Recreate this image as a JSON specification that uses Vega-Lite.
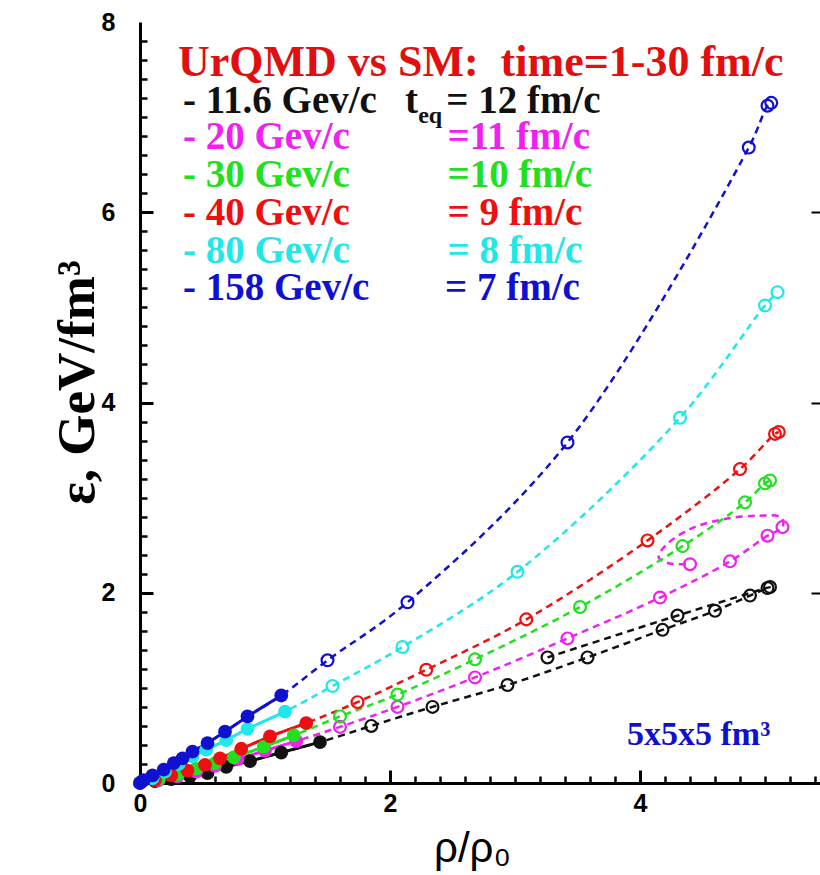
{
  "$schema": "https://vega.github.io/schema/vega-lite/v6.json",
  "width": 680,
  "height": 761,
  "autosize": {"type": "none"},
  "padding": {"left": 140, "top": 22, "right": 0, "bottom": 92},
  "background": "white",
  "config": {"view": {"stroke": null}, "axis": {"labelOverlap": false}},
  "datasets": {
    "pts": [
      {"s": "11.6", "i": 0, "x": 0, "y": 0, "k": "f"},
      {"s": "11.6", "i": 1, "x": 0.12, "y": 0.02, "k": "f"},
      {"s": "11.6", "i": 2, "x": 0.25, "y": 0.04, "k": "f"},
      {"s": "11.6", "i": 3, "x": 0.4, "y": 0.07, "k": "f"},
      {"s": "11.6", "i": 4, "x": 0.54, "y": 0.105, "k": "f"},
      {"s": "11.6", "i": 5, "x": 0.69, "y": 0.17, "k": "f"},
      {"s": "11.6", "i": 6, "x": 0.88, "y": 0.23, "k": "f"},
      {"s": "11.6", "i": 7, "x": 1.13, "y": 0.32, "k": "f"},
      {"s": "11.6", "i": 8, "x": 1.44, "y": 0.43, "k": "f"},
      {"s": "11.6", "i": 9, "x": 1.85, "y": 0.6, "k": "o"},
      {"s": "11.6", "i": 10, "x": 2.34, "y": 0.8, "k": "o"},
      {"s": "11.6", "i": 11, "x": 2.94, "y": 1.03, "k": "o"},
      {"s": "11.6", "i": 12, "x": 3.58, "y": 1.32, "k": "o"},
      {"s": "11.6", "i": 13, "x": 4.18, "y": 1.61, "k": "o"},
      {"s": "11.6", "i": 14, "x": 4.6, "y": 1.81, "k": "o"},
      {"s": "11.6", "i": 15, "x": 4.88, "y": 1.97, "k": "o"},
      {"s": "11.6", "i": 16, "x": 5.02, "y": 2.05, "k": "o"},
      {"s": "11.6", "i": 17, "x": 5.04, "y": 2.06, "k": "o"},
      {"s": "11.6", "i": 18, "x": 4.3, "y": 1.76, "k": "o"},
      {"s": "11.6", "i": 19, "x": 3.26, "y": 1.32, "k": "o"},

      {"s": "20", "i": 0, "x": 0, "y": 0, "k": "f"},
      {"s": "20", "i": 1, "x": 0.15, "y": 0.03, "k": "f"},
      {"s": "20", "i": 2, "x": 0.3, "y": 0.07, "k": "f"},
      {"s": "20", "i": 3, "x": 0.45, "y": 0.12, "k": "f"},
      {"s": "20", "i": 4, "x": 0.6, "y": 0.18, "k": "f"},
      {"s": "20", "i": 5, "x": 0.78, "y": 0.25, "k": "f"},
      {"s": "20", "i": 6, "x": 1.0, "y": 0.34, "k": "f"},
      {"s": "20", "i": 7, "x": 1.25, "y": 0.44, "k": "f"},
      {"s": "20", "i": 8, "x": 1.6, "y": 0.59, "k": "o"},
      {"s": "20", "i": 9, "x": 2.06, "y": 0.8, "k": "o"},
      {"s": "20", "i": 10, "x": 2.68, "y": 1.11, "k": "o"},
      {"s": "20", "i": 11, "x": 3.42, "y": 1.52, "k": "o"},
      {"s": "20", "i": 12, "x": 4.16, "y": 1.95, "k": "o"},
      {"s": "20", "i": 13, "x": 4.72, "y": 2.33, "k": "o"},
      {"s": "20", "i": 14, "x": 5.02, "y": 2.6, "k": "o"},
      {"s": "20", "i": 15, "x": 5.14, "y": 2.69, "k": "o"},
      {"s": "20", "i": 16, "x": 5.13, "y": 2.79, "k": "c"},
      {"s": "20", "i": 17, "x": 4.94, "y": 2.81, "k": "c"},
      {"s": "20", "i": 18, "x": 4.66, "y": 2.77, "k": "c"},
      {"s": "20", "i": 19, "x": 4.4, "y": 2.67, "k": "c"},
      {"s": "20", "i": 20, "x": 4.2, "y": 2.49, "k": "c"},
      {"s": "20", "i": 21, "x": 4.15, "y": 2.37, "k": "c"},
      {"s": "20", "i": 22, "x": 4.23, "y": 2.31, "k": "c"},
      {"s": "20", "i": 23, "x": 4.4, "y": 2.3, "k": "o"},

      {"s": "30", "i": 0, "x": 0, "y": 0, "k": "f"},
      {"s": "30", "i": 1, "x": 0.15, "y": 0.04, "k": "f"},
      {"s": "30", "i": 2, "x": 0.3, "y": 0.09, "k": "f"},
      {"s": "30", "i": 3, "x": 0.45, "y": 0.15, "k": "f"},
      {"s": "30", "i": 4, "x": 0.6, "y": 0.21, "k": "f"},
      {"s": "30", "i": 5, "x": 0.75, "y": 0.27, "k": "f"},
      {"s": "30", "i": 6, "x": 0.99, "y": 0.38, "k": "f"},
      {"s": "30", "i": 7, "x": 1.23, "y": 0.5, "k": "f"},
      {"s": "30", "i": 8, "x": 1.6, "y": 0.7, "k": "o"},
      {"s": "30", "i": 9, "x": 2.06, "y": 0.93, "k": "o"},
      {"s": "30", "i": 10, "x": 2.68, "y": 1.3, "k": "o"},
      {"s": "30", "i": 11, "x": 3.52, "y": 1.85, "k": "o"},
      {"s": "30", "i": 12, "x": 4.34, "y": 2.49, "k": "o"},
      {"s": "30", "i": 13, "x": 4.84, "y": 2.95, "k": "o"},
      {"s": "30", "i": 14, "x": 5.0, "y": 3.15, "k": "o"},
      {"s": "30", "i": 15, "x": 5.04, "y": 3.18, "k": "o"},

      {"s": "40", "i": 0, "x": 0, "y": 0, "k": "f"},
      {"s": "40", "i": 1, "x": 0.12, "y": 0.03, "k": "f"},
      {"s": "40", "i": 2, "x": 0.25, "y": 0.08, "k": "f"},
      {"s": "40", "i": 3, "x": 0.38, "y": 0.13, "k": "f"},
      {"s": "40", "i": 4, "x": 0.52, "y": 0.19, "k": "f"},
      {"s": "40", "i": 5, "x": 0.64, "y": 0.26, "k": "f"},
      {"s": "40", "i": 6, "x": 0.81, "y": 0.36, "k": "f"},
      {"s": "40", "i": 7, "x": 1.04, "y": 0.49, "k": "f"},
      {"s": "40", "i": 8, "x": 1.33, "y": 0.63, "k": "f"},
      {"s": "40", "i": 9, "x": 1.74, "y": 0.85, "k": "o"},
      {"s": "40", "i": 10, "x": 2.29, "y": 1.19, "k": "o"},
      {"s": "40", "i": 11, "x": 3.09, "y": 1.72, "k": "o"},
      {"s": "40", "i": 12, "x": 4.06, "y": 2.55, "k": "o"},
      {"s": "40", "i": 13, "x": 4.8, "y": 3.3, "k": "o"},
      {"s": "40", "i": 14, "x": 5.08, "y": 3.67, "k": "o"},
      {"s": "40", "i": 15, "x": 5.11, "y": 3.69, "k": "o"},

      {"s": "80", "i": 0, "x": 0, "y": 0, "k": "f"},
      {"s": "80", "i": 1, "x": 0.1, "y": 0.05, "k": "f"},
      {"s": "80", "i": 2, "x": 0.2, "y": 0.12, "k": "f"},
      {"s": "80", "i": 3, "x": 0.31, "y": 0.2, "k": "f"},
      {"s": "80", "i": 4, "x": 0.42, "y": 0.28, "k": "f"},
      {"s": "80", "i": 5, "x": 0.53, "y": 0.35, "k": "f"},
      {"s": "80", "i": 6, "x": 0.69, "y": 0.45, "k": "f"},
      {"s": "80", "i": 7, "x": 0.86, "y": 0.57, "k": "f"},
      {"s": "80", "i": 8, "x": 1.16, "y": 0.75, "k": "f"},
      {"s": "80", "i": 9, "x": 1.54, "y": 1.02, "k": "o"},
      {"s": "80", "i": 10, "x": 2.1, "y": 1.43, "k": "o"},
      {"s": "80", "i": 11, "x": 3.02, "y": 2.22, "k": "o"},
      {"s": "80", "i": 12, "x": 4.32, "y": 3.84, "k": "o"},
      {"s": "80", "i": 13, "x": 5.0, "y": 5.02, "k": "o"},
      {"s": "80", "i": 14, "x": 5.1, "y": 5.16, "k": "o"},

      {"s": "158", "i": 0, "x": 0, "y": 0, "k": "f"},
      {"s": "158", "i": 1, "x": 0.03, "y": 0.03, "k": "f"},
      {"s": "158", "i": 2, "x": 0.1, "y": 0.08, "k": "f"},
      {"s": "158", "i": 3, "x": 0.19, "y": 0.14, "k": "f"},
      {"s": "158", "i": 4, "x": 0.27, "y": 0.21, "k": "f"},
      {"s": "158", "i": 5, "x": 0.34, "y": 0.26, "k": "f"},
      {"s": "158", "i": 6, "x": 0.42, "y": 0.33, "k": "f"},
      {"s": "158", "i": 7, "x": 0.54, "y": 0.42, "k": "f"},
      {"s": "158", "i": 8, "x": 0.68, "y": 0.54, "k": "f"},
      {"s": "158", "i": 9, "x": 0.86, "y": 0.7, "k": "f"},
      {"s": "158", "i": 10, "x": 1.13, "y": 0.92, "k": "f"},
      {"s": "158", "i": 11, "x": 1.5, "y": 1.29, "k": "o"},
      {"s": "158", "i": 12, "x": 2.14, "y": 1.9, "k": "o"},
      {"s": "158", "i": 13, "x": 3.42, "y": 3.58, "k": "o"},
      {"s": "158", "i": 14, "x": 4.87, "y": 6.68, "k": "o"},
      {"s": "158", "i": 15, "x": 5.02, "y": 7.12, "k": "o"},
      {"s": "158", "i": 16, "x": 5.05, "y": 7.15, "k": "o"}
    ]
  },
  "resolve": {"axis": {"x": "independent", "y": "independent"}},
  "layer": [
    {
      "layer": [
        {
          "data": {"name": "pts"},
          "mark": {"type": "line", "interpolate": "catmull-rom", "strokeDash": [7, 5], "strokeWidth": 2.5},
          "encoding": {
            "x": {
              "field": "x", "type": "quantitative",
              "scale": {"domain": [0, 5.44], "nice": false, "zero": false},
              "axis": {
                "values": [0, 2, 4],
                "format": "d",
                "ticks": false,
                "domainColor": "#000000", "domainWidth": 3,
                "labelFont": "Liberation Sans", "labelFontWeight": "bold", "labelFontSize": 25, "labelColor": "#000000",
                "labelPadding": 8, "labelOverlap": false, "labelFlush": false, "labelBound": false,
                "grid": false,
                "title": "ρ/ρ₀", "titleFont": "Liberation Sans", "titleFontWeight": "normal", "titleFontSize": 42, "titleColor": "#000000", "titlePadding": 12, "titleX": 332
              }
            },
            "y": {
              "field": "y", "type": "quantitative",
              "scale": {"domain": [0, 8], "nice": false, "zero": false},
              "axis": {
                "values": [0, 2, 4, 6, 8],
                "format": "d",
                "ticks": false,
                "domainColor": "#000000", "domainWidth": 3,
                "labelFont": "Liberation Sans", "labelFontWeight": "bold", "labelFontSize": 25, "labelColor": "#000000",
                "labelPadding": 25, "labelOverlap": false, "labelFlush": false, "labelBound": false,
                "grid": false,
                "title": "ε, GeV/fm³", "titleFont": "Liberation Serif", "titleFontWeight": "bold", "titleFontSize": 53, "titleColor": "#000000", "titlePadding": -3, "titleY": 360
              }
            },
            "color": {
              "field": "s", "type": "nominal", "legend": null,
              "scale": {"domain": ["11.6", "20", "30", "40", "80", "158"], "range": ["#111111", "#f020f0", "#20e020", "#ee1010", "#20e8e8", "#1010d0"]}
            },
            "order": {"field": "i", "type": "quantitative"}
          }
        },
        {
          "data": {"name": "pts"},
          "transform": [{"filter": "datum.k == 'f'"}],
          "mark": {"type": "line", "strokeWidth": 3},
          "encoding": {
            "x": {"field": "x", "type": "quantitative"},
            "y": {"field": "y", "type": "quantitative"},
            "color": {"field": "s", "type": "nominal", "legend": null},
            "order": {"field": "i", "type": "quantitative"}
          }
        },
        {
          "data": {"name": "pts"},
          "transform": [{"filter": "datum.k == 'o'"}],
          "mark": {"type": "point", "shape": "circle", "filled": false, "size": 140, "strokeWidth": 2.2, "opacity": 1},
          "encoding": {
            "x": {"field": "x", "type": "quantitative"},
            "y": {"field": "y", "type": "quantitative"},
            "color": {"field": "s", "type": "nominal", "legend": null}
          }
        },
        {
          "data": {"name": "pts"},
          "transform": [{"filter": "datum.k == 'f'"}],
          "mark": {"type": "point", "shape": "circle", "filled": true, "size": 190, "opacity": 1},
          "encoding": {
            "x": {"field": "x", "type": "quantitative"},
            "y": {"field": "y", "type": "quantitative"},
            "color": {"field": "s", "type": "nominal", "legend": null}
          }
        },
        {
          "data": {"values": [{"t": "UrQMD vs SM:\u00a0 time=1-30 fm/c"}]},
          "mark": {"type": "text", "align": "left", "baseline": "alphabetic", "font": "Liberation Serif", "fontWeight": "bold", "fontSize": 44, "color": "#e01010"},
          "encoding": {"x": {"datum": 0.304, "type": "quantitative"}, "y": {"datum": 7.43, "type": "quantitative"}, "text": {"field": "t"}}
        },
        {
          "data": {"values": [{"t": "- 11.6 Gev/c"}]},
          "mark": {"type": "text", "align": "left", "baseline": "alphabetic", "font": "Liberation Serif", "fontWeight": "bold", "fontSize": 39, "color": "#111111"},
          "encoding": {"x": {"datum": 0.344, "type": "quantitative"}, "y": {"datum": 7.048, "type": "quantitative"}, "text": {"field": "t"}}
        },
        {
          "data": {"values": [{"t": "t"}]},
          "mark": {"type": "text", "align": "left", "baseline": "alphabetic", "font": "Liberation Serif", "fontWeight": "bold", "fontSize": 39, "color": "#111111"},
          "encoding": {"x": {"datum": 2.12, "type": "quantitative"}, "y": {"datum": 7.048, "type": "quantitative"}, "text": {"field": "t"}}
        },
        {
          "data": {"values": [{"t": "eq"}]},
          "mark": {"type": "text", "align": "left", "baseline": "alphabetic", "font": "Liberation Serif", "fontWeight": "bold", "fontSize": 24, "color": "#111111", "dy": 10},
          "encoding": {"x": {"datum": 2.225, "type": "quantitative"}, "y": {"datum": 7.048, "type": "quantitative"}, "text": {"field": "t"}}
        },
        {
          "data": {"values": [{"t": "= 12 fm/c"}]},
          "mark": {"type": "text", "align": "left", "baseline": "alphabetic", "font": "Liberation Serif", "fontWeight": "bold", "fontSize": 39, "color": "#111111"},
          "encoding": {"x": {"datum": 2.45, "type": "quantitative"}, "y": {"datum": 7.048, "type": "quantitative"}, "text": {"field": "t"}}
        },
        {
          "data": {"values": [{"t": "- 20 Gev/c"}]},
          "mark": {"type": "text", "align": "left", "baseline": "alphabetic", "font": "Liberation Serif", "fontWeight": "bold", "fontSize": 39, "color": "#f020f0"},
          "encoding": {"x": {"datum": 0.344, "type": "quantitative"}, "y": {"datum": 6.67, "type": "quantitative"}, "text": {"field": "t"}}
        },
        {
          "data": {"values": [{"t": "=11 fm/c"}]},
          "mark": {"type": "text", "align": "left", "baseline": "alphabetic", "font": "Liberation Serif", "fontWeight": "bold", "fontSize": 39, "color": "#f020f0"},
          "encoding": {"x": {"datum": 2.46, "type": "quantitative"}, "y": {"datum": 6.67, "type": "quantitative"}, "text": {"field": "t"}}
        },
        {
          "data": {"values": [{"t": "- 30 Gev/c"}]},
          "mark": {"type": "text", "align": "left", "baseline": "alphabetic", "font": "Liberation Serif", "fontWeight": "bold", "fontSize": 39, "color": "#20e020"},
          "encoding": {"x": {"datum": 0.344, "type": "quantitative"}, "y": {"datum": 6.261, "type": "quantitative"}, "text": {"field": "t"}}
        },
        {
          "data": {"values": [{"t": "=10 fm/c"}]},
          "mark": {"type": "text", "align": "left", "baseline": "alphabetic", "font": "Liberation Serif", "fontWeight": "bold", "fontSize": 39, "color": "#20e020"},
          "encoding": {"x": {"datum": 2.46, "type": "quantitative"}, "y": {"datum": 6.261, "type": "quantitative"}, "text": {"field": "t"}}
        },
        {
          "data": {"values": [{"t": "- 40 Gev/c"}]},
          "mark": {"type": "text", "align": "left", "baseline": "alphabetic", "font": "Liberation Serif", "fontWeight": "bold", "fontSize": 39, "color": "#ee1010"},
          "encoding": {"x": {"datum": 0.344, "type": "quantitative"}, "y": {"datum": 5.861, "type": "quantitative"}, "text": {"field": "t"}}
        },
        {
          "data": {"values": [{"t": "= 9 fm/c"}]},
          "mark": {"type": "text", "align": "left", "baseline": "alphabetic", "font": "Liberation Serif", "fontWeight": "bold", "fontSize": 39, "color": "#ee1010"},
          "encoding": {"x": {"datum": 2.46, "type": "quantitative"}, "y": {"datum": 5.861, "type": "quantitative"}, "text": {"field": "t"}}
        },
        {
          "data": {"values": [{"t": "- 80 Gev/c"}]},
          "mark": {"type": "text", "align": "left", "baseline": "alphabetic", "font": "Liberation Serif", "fontWeight": "bold", "fontSize": 39, "color": "#20e8e8"},
          "encoding": {"x": {"datum": 0.344, "type": "quantitative"}, "y": {"datum": 5.462, "type": "quantitative"}, "text": {"field": "t"}}
        },
        {
          "data": {"values": [{"t": "= 8 fm/c"}]},
          "mark": {"type": "text", "align": "left", "baseline": "alphabetic", "font": "Liberation Serif", "fontWeight": "bold", "fontSize": 39, "color": "#20e8e8"},
          "encoding": {"x": {"datum": 2.46, "type": "quantitative"}, "y": {"datum": 5.462, "type": "quantitative"}, "text": {"field": "t"}}
        },
        {
          "data": {"values": [{"t": "- 158 Gev/c"}]},
          "mark": {"type": "text", "align": "left", "baseline": "alphabetic", "font": "Liberation Serif", "fontWeight": "bold", "fontSize": 39, "color": "#1010d0"},
          "encoding": {"x": {"datum": 0.344, "type": "quantitative"}, "y": {"datum": 5.074, "type": "quantitative"}, "text": {"field": "t"}}
        },
        {
          "data": {"values": [{"t": "= 7 fm/c"}]},
          "mark": {"type": "text", "align": "left", "baseline": "alphabetic", "font": "Liberation Serif", "fontWeight": "bold", "fontSize": 39, "color": "#1010d0"},
          "encoding": {"x": {"datum": 2.44, "type": "quantitative"}, "y": {"datum": 5.074, "type": "quantitative"}, "text": {"field": "t"}}
        },
        {
          "data": {"values": [{"t": "5x5x5 fm³"}]},
          "mark": {"type": "text", "align": "left", "baseline": "alphabetic", "font": "Liberation Serif", "fontWeight": "bold", "fontSize": 34, "color": "#1010d0"},
          "encoding": {"x": {"datum": 3.896, "type": "quantitative"}, "y": {"datum": 0.4, "type": "quantitative"}, "text": {"field": "t"}}
        }
      ]
    },
    {
      "data": {"values": [{"t": ""}]},
      "mark": {"type": "point", "opacity": 0},
      "encoding": {
        "x": {
          "datum": 1, "type": "quantitative",
          "axis": {
            "orient": "bottom", "offset": -7,
            "values": [0.2,0.4,0.6,0.8,1,1.2,1.4,1.6,1.8,2.2,2.4,2.6,2.8,3,3.2,3.4,3.6,3.8,4.2,4.4,4.6,4.8,5,5.2,5.4],
            "labels": false, "domain": false, "grid": false,
            "ticks": true, "tickSize": 7, "tickWidth": 2.5, "tickColor": "#000000", "title": null
          }
        },
        "y": {
          "datum": 1, "type": "quantitative",
          "axis": {
            "orient": "left", "offset": -7,
            "values": [0.2,0.4,0.6,0.8,1,1.2,1.4,1.6,1.8,2.2,2.4,2.6,2.8,3,3.2,3.4,3.6,3.8,4.2,4.4,4.6,4.8,5,5.2,5.4,5.6,5.8,6.2,6.4,6.6,6.8,7,7.2,7.4,7.6,7.8],
            "labels": false, "domain": false, "grid": false,
            "ticks": true, "tickSize": 7, "tickWidth": 2.5, "tickColor": "#000000", "title": null
          }
        }
      }
    },
    {
      "data": {"values": [{"t": ""}]},
      "mark": {"type": "point", "opacity": 0},
      "encoding": {
        "x": {
          "datum": 2, "type": "quantitative",
          "axis": {
            "orient": "bottom", "offset": -13,
            "values": [2, 4],
            "labels": false, "domain": false, "grid": false,
            "ticks": true, "tickSize": 13, "tickWidth": 3, "tickColor": "#000000", "title": null
          }
        },
        "y": {
          "datum": 2, "type": "quantitative",
          "axis": {
            "orient": "left", "offset": -13,
            "values": [2, 4, 6],
            "labels": false, "domain": false, "grid": false,
            "ticks": true, "tickSize": 13, "tickWidth": 3, "tickColor": "#000000", "title": null
          }
        }
      }
    },
    {
      "data": {"values": [{"t": ""}]},
      "mark": {"type": "point", "opacity": 0},
      "encoding": {
        "x": {"datum": 5, "type": "quantitative", "axis": null},
        "y": {
          "datum": 4, "type": "quantitative",
          "axis": {
            "orient": "right", "values": [2, 4, 6], "labels": false, "domain": false, "grid": false,
            "ticks": true, "tickSize": -9, "tickWidth": 2, "tickColor": "#000000", "title": null
          }
        }
      }
    }
  ]
}
